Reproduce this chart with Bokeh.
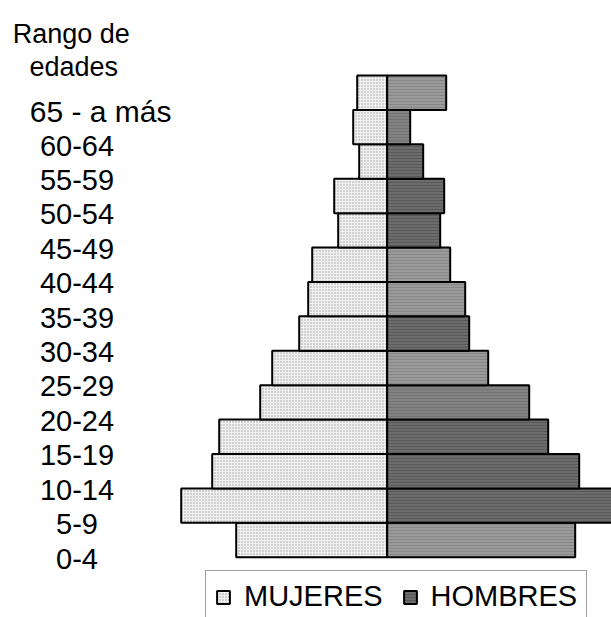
from bokeh.plotting import figure
from bokeh.models import Range1d, ColumnDataSource, Legend, LegendItem
from bokeh.core.properties import value
from bokeh.embed import file_html
from bokeh.resources import INLINE

# Data (bottom to top)
age_groups = ["0-4", "5-9", "10-14", "15-19", "20-24", "25-29", "30-34",
              "35-39", "40-44", "45-49", "50-54", "55-59", "60-64", "65 - a más"]
mujeres = [151, 206, 175, 168, 127, 115, 88, 79, 75, 49, 53, 28, 34, 30]
hombres = [188, 232, 192, 161, 142, 101, 82, 78, 63, 53, 57, 36, 23, 59]
title_lines = ["Rango de", "edades"]
legend_labels = ["MUJERES", "HOMBRES"]

# Styles
LIGHT, MED, DARK = "#9a9a9a", "#828282", "#6c6c6c"
LIGHT_H, MED_H, DARK_H = "#888888", "#737373", "#5a5a5a"
shade = ["L", "D", "D", "D", "M", "L", "D", "L", "L", "D", "D", "D", "M", "L"]
fill_map = {"L": LIGHT, "M": MED, "D": DARK}
hatch_map = {"L": LIGHT_H, "M": MED_H, "D": DARK_H}

n = len(age_groups)
idx = list(range(n))
src_m = ColumnDataSource(dict(left=[-v for v in mujeres], right=[0] * n,
                              bottom=idx, top=[i + 1 for i in idx]))
src_h = ColumnDataSource(dict(left=[0] * n, right=hombres,
                              bottom=idx, top=[i + 1 for i in idx],
                              fc=[fill_map[s] for s in shade],
                              hc=[hatch_map[s] for s in shade]))

W, H = 611, 617
p = figure(width=W, height=H, output_backend="svg", toolbar_location=None,
           x_range=Range1d(-386.7, 224.3), y_range=Range1d(-1.752, 16.18),
           min_border=0)
p.axis.visible = False
p.grid.visible = False
p.outline_line_color = None
p.background_fill_color = "white"

rm = p.quad(left="left", right="right", bottom="bottom", top="top", source=src_m,
            fill_color="#f0f0f0", hatch_pattern="dot", hatch_color="#a0a0a0",
            hatch_scale=3, hatch_weight=1,
            line_color="black", line_width=2)
rh = p.quad(left="left", right="right", bottom="bottom", top="top", source=src_h,
            fill_color="fc", hatch_pattern="horizontal_line", hatch_color="hc",
            hatch_scale=3, hatch_weight=1,
            line_color="black", line_width=2)

FONT = value("Liberation Sans")
label_x = -310.2
p.text(x=[label_x] * (n - 1), y=[i + 0.5 for i in idx[:-1]], text=age_groups[:-1],
       text_font=FONT, text_font_size="29px", text_align="center",
       text_baseline="alphabetic", y_offset=18.5, text_color="black")
p.text(x=[-357.4], y=[idx[-1] + 0.5], text=[age_groups[-1]],
       text_font=FONT, text_font_size="30px", text_align="left",
       text_baseline="alphabetic", y_offset=18.5, text_color="black")

p.text(x=[-315.9, -313.4], y=[15.21, 14.24], text=title_lines,
       text_font=FONT, text_font_size="27px", text_align="center",
       text_baseline="alphabetic", text_color="black")

legend = Legend(items=[LegendItem(label=legend_labels[0], renderers=[rm], index=1),
                       LegendItem(label=legend_labels[1], renderers=[rh], index=1)],
                orientation="horizontal", location=(205, -6),
                glyph_width=16, glyph_height=16, label_standoff=13, spacing=19,
                padding=9, margin=0,
                label_text_font="Liberation Sans", label_text_font_size="29px",
                label_text_color="black",
                border_line_color="#404040", border_line_width=1,
                background_fill_color="white", background_fill_alpha=1)
p.add_layout(legend, "center")

open("out.html", "w").write(file_html(p, INLINE))
